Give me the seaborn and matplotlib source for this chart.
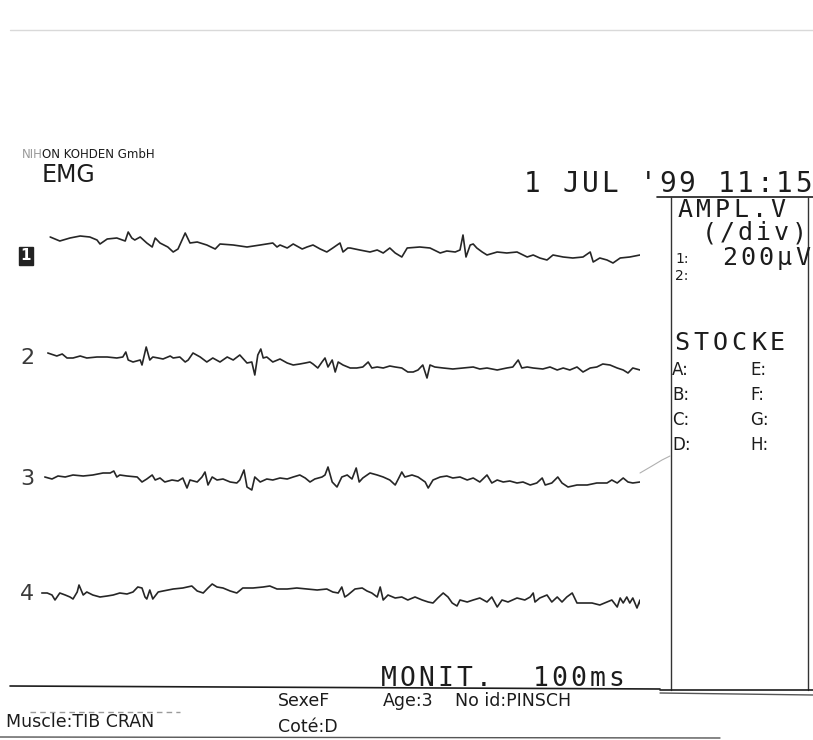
"""
EMG monitor printout (NIHON KOHDEN) - 4 channels, 200uV/div, 100ms/div
"""

import pandas as pd
import matplotlib
matplotlib.use('Agg')
import matplotlib.pyplot as plt
import seaborn as sns
import warnings
warnings.filterwarnings('ignore')

# ── data: time (ms) / amplitude (uV) ────────────────────────────────
t1 = [17, 33, 50, 67, 83, 95, 100, 112, 128, 142, 147, 153, 158, 167, 178, 187, 192, 200,
      213, 222, 230, 242, 250, 262, 278, 292, 300, 322, 345, 367, 388, 395, 400, 412, 422,
      437, 445, 455, 467, 478, 488, 500, 505, 513, 517, 533, 550, 562, 572, 583, 592, 603,
      612, 633, 650, 667, 678, 692, 700, 705, 710, 717, 722, 728, 737, 745, 762, 778, 795,
      812, 822, 833, 845, 855, 872, 888, 905, 917, 922, 933, 945, 955, 967, 983, 1000, 1008]
v1 = [55, 35, 50, 60, 55, 40, 20, 45, 50, 35, 80, 50, 40, 55, 25, 5, 50, 25,
      5, -20, -5, 75, 25, 30, 15, -5, 20, 15, 5, 15, 25, 5, 15, 0, 20,
      -5, 5, 15, -5, -20, 0, 25, -20, 0, 0, -10, -20, -10, -25, 0, -25, -45,
      0, 5, 0, -25, -15, -20, -10, 65, -45, 15, 20, 0, -20, -35, -20, -25, -20,
      -45, -35, -50, -60, -35, -45, -50, -45, -20, -70, -50, -60, -75, -50, -45, -35, -45]

t2 = [13, 28, 37, 45, 55, 67, 78, 95, 112, 128, 138, 143, 147, 155, 167, 170, 177, 183,
      188, 197, 205, 217, 222, 233, 242, 247, 255, 267, 278, 288, 300, 312, 322, 333, 345,
      353, 358, 363, 368, 372, 378, 388, 400, 412, 422, 433, 442, 450, 455, 463, 470, 475,
      480, 487, 492, 497, 505, 513, 517, 528, 538, 547, 553, 562, 572, 583, 592, 603, 613,
      622, 630, 638, 645, 650, 658, 672, 688, 705, 722, 733, 745, 762, 778, 788, 797, 803,
      812, 822, 838, 850, 862, 872, 883, 895, 905, 917, 928, 938, 950, 962, 972, 980, 988,
      1000, 1008]
v2 = [45, 30, 40, 20, 20, 30, 20, 25, 25, 20, 25, 50, 10, 0, 10, -15, 75, 10,
      25, 20, 15, 30, 20, 25, 0, 10, 45, 25, 0, 20, 0, 25, 10, 35, -5,
      0, -65, 35, 65, 20, 25, 0, 15, -5, -15, -10, -5, 0, -10, -30, 0, 20,
      -25, 10, -50, 0, -15, -25, -30, -30, -25, 0, -30, -25, -30, -20, -25, -30, -50,
      -50, -40, -15, -80, -15, -25, -30, -35, -30, -25, -35, -30, -40, -30, -25, 10, -30,
      -25, -30, -35, -25, -40, -30, -40, -25, -50, -30, -25, -10, -15, -30, -40, -55, -30,
      -40, -25]

t3 = [8, 20, 30, 42, 55, 72, 88, 105, 117, 123, 128, 133, 145, 162, 170, 178, 187, 192,
      200, 208, 220, 230, 238, 245, 250, 262, 270, 275, 280, 287, 295, 305, 317, 328, 333,
      340, 345, 353, 358, 367, 378, 388, 400, 412, 422, 433, 442, 450, 458, 470, 475, 480,
      487, 495, 503, 512, 520, 527, 532, 538, 550, 562, 572, 583, 592, 598, 603, 608, 620,
      630, 642, 647, 655, 667, 678, 688, 700, 712, 722, 733, 745, 753, 762, 772, 783, 795,
      805, 817, 828, 837, 842, 853, 863, 870, 880, 895, 912, 928, 945, 953, 962, 972, 980,
      988, 1000]
v3 = [10, 0, 15, 10, 20, 15, 20, 30, 30, 40, 10, 20, 15, 10, -15, 0, 20, -5,
      5, -15, -5, -10, 5, -45, -5, -15, 10, 35, -30, 10, -5, 0, -15, -20, -5,
      45, -40, -55, 10, -15, 0, -5, 5, 0, 10, 20, 5, -15, 0, 10, 20, 60,
      -15, -40, 10, 20, 0, 55, -15, 5, 30, 20, 10, -5, -30, 5, 35, 10, 20,
      10, -15, -45, -5, 10, 15, 5, 10, -5, 5, -15, 20, -20, -5, -15, -10, -20,
      -15, -30, -20, 5, -30, -20, 10, -20, -40, -30, -30, -20, -20, -5, -20, 5, -15,
      -20, -15]

t4 = [3, 12, 20, 25, 33, 42, 50, 55, 62, 65, 72, 78, 88, 100, 112, 122, 133, 145,
      155, 163, 170, 175, 178, 183, 188, 197, 205, 222, 238, 253, 262, 272, 280, 287, 295,
      305, 317, 328, 338, 355, 372, 383, 395, 412, 428, 445, 462, 478, 488, 497, 503, 508,
      513, 525, 537, 545, 553, 562, 567, 572, 580, 592, 603, 613, 625, 637, 647, 655, 663,
      672, 680, 687, 695, 700, 712, 722, 733, 745, 753, 762, 770, 780, 795, 808, 817, 822,
      825, 833, 845, 853, 862, 870, 878, 887, 895, 905, 920, 933, 945, 953, 962, 967, 972,
      978, 983, 988, 995, 1000, 1003]
v4 = [10, 10, 0, -25, 10, 0, -10, -20, 15, 50, 0, 15, 0, -10, -5, 0, 10, 5,
      15, 40, 35, -10, -20, 25, -20, 15, 20, 30, 35, 45, 20, 10, 35, 55, 40,
      35, 20, 10, 35, 35, 40, 45, 30, 30, 35, 30, 25, 30, 15, 10, 40, -10,
      0, 30, 35, 20, 10, -10, 40, -25, 0, -15, -10, -25, -10, -25, -35, -40, -15,
      10, -10, -40, -55, -25, -35, -25, -15, -35, -10, -60, -25, -35, -15, -25, -10, 10,
      -35, -15, 0, -35, -10, -35, -10, 10, -40, -40, -40, -50, -35, -25, -60, -15, -40,
      -10, -40, -15, -65, -25, -90]

CHANNELS = [('1', t1, v1), ('2', t2, v2), ('3', t3, v3), ('4', t4, v4)]
BASE_Y = [248, 362, 479, 595]          # trace baselines on the sheet (px from top)

# ── figure ──────────────────────────────────────────────────────────
W, H = 813, 740
sns.set_theme(style='white')
plt.rcParams['font.family'] = ['DejaVu Sans']

fig = plt.figure(figsize=(W / 100, H / 100), dpi=100)
fig.patch.set_facecolor('white')

INK = '#1c1c1c'
MONO = 'DejaVu Sans Mono'
NARROW = ['Liberation Sans Narrow', 'DejaVu Sans']

# traces: one strip per channel, 1000 ms wide, 5 uV per pixel
for (name, t, v), by in zip(CHANNELS, BASE_Y):
    ax = fig.add_axes([40 / W, (H - by - 50) / H, 600 / W, 100 / H])
    df = pd.DataFrame({'t': t, 'v': v})
    sns.lineplot(data=df, x='t', y='v', ax=ax, color='#262626', linewidth=1.2,
                 estimator=None, sort=False)
    ax.set_xlim(0, 1000)
    ax.set_ylim(-250, 250)
    ax.axis('off')

# sheet overlay in pixel coords
ov = fig.add_axes([0, 0, 1, 1])
ov.set_xlim(0, W)
ov.set_ylim(H, 0)
ov.axis('off')
ov.patch.set_alpha(0)


def mono(x0, y, s, pitch, size, **kw):
    # dot-matrix style: fixed pitch per character
    for i, ch in enumerate(s):
        if ch != ' ':
            ov.text(x0 + (i + 0.5) * pitch, y, ch, ha='center', va='center',
                    fontsize=size, family=MONO, color=INK, **kw)


# scan edge
ov.plot([10, 813], [30, 30], color='#d9d9d9', linewidth=1)

# header
ov.text(22, 154, 'NIH', fontsize=8.5, color='#9a9a9a', va='center')
ov.text(42, 154, 'ON KOHDEN GmbH', fontsize=8.5, color=INK, va='center')
ov.text(42, 175, 'EMG', fontsize=17, color=INK, va='center')
mono(522, 184, "1 JUL '99 11:15", 19.4, 20)

# settings box
ov.plot([657, 813], [197, 197], color=INK, linewidth=1.2)
ov.plot([671, 671], [197, 690], color='#333333', linewidth=1)
ov.plot([808, 808], [197, 690], color='#333333', linewidth=1)
ov.plot([660, 813], [690, 690], color=INK, linewidth=1.2)

mono(676, 210, 'AMPL.V', 18.5, 18)
mono(700, 233, '(/div)', 18, 18)
mono(720, 258, '200µV', 18.4, 18)
ov.text(675, 259, '1:', fontsize=10, family=NARROW, color=INK, va='center')
ov.text(675, 276, '2:', fontsize=10, family=NARROW, color=INK, va='center')

mono(672, 343, 'STOCKE', 19.2, 18)
for i, (l, r) in enumerate([('A:', 'E:'), ('B:', 'F:'), ('C:', 'G:'), ('D:', 'H:')]):
    yy = 370 + i * 25
    ov.text(672, yy, l, fontsize=12, family=NARROW, color=INK, va='center')
    ov.text(750, yy, r, fontsize=12, family=NARROW, color=INK, va='center')

# faint pen stroke from trace 3 to the box
ov.plot([640, 652, 662, 670], [473, 466, 460, 456], color='#b0b0b0', linewidth=0.8)

# channel labels
ov.text(26, 256, '1', fontsize=11, fontweight='bold', color='white', ha='center',
        va='center', bbox=dict(boxstyle='square,pad=0.12', fc='#222222', ec='#222222'))
for lab, yy in [('2', 358), ('3', 479), ('4', 594)]:
    ov.text(20, yy, lab, fontsize=16, color='#3a3a3a', va='center')

# footer
mono(379, 679, 'MONIT.  100ms', 19, 19)
ov.plot([10, 660], [686, 689], color=INK, linewidth=1.2)
ov.plot([660, 813], [693, 695], color='#555555', linewidth=1)
ov.plot([30, 180], [712, 712], color='#9a9a9a', linewidth=1, linestyle=(0, (4, 3)))
ov.plot([0, 720], [737, 738], color='#555555', linewidth=1)

ov.text(278, 701, 'SexeF', fontsize=12.5, family=NARROW, color=INK, va='center')
ov.text(383, 701, 'Age:3', fontsize=12.5, family=NARROW, color=INK, va='center')
ov.text(455, 701, 'No id:PINSCH', fontsize=12.5, family=NARROW, color=INK, va='center')
ov.text(6, 722, 'Muscle:TIB CRAN', fontsize=12.5, family=NARROW, color=INK, va='center')
ov.text(278, 727, 'Coté:D', fontsize=12.5, family=NARROW, color=INK, va='center')

plt.savefig('out.png', dpi=100)
plt.close()
